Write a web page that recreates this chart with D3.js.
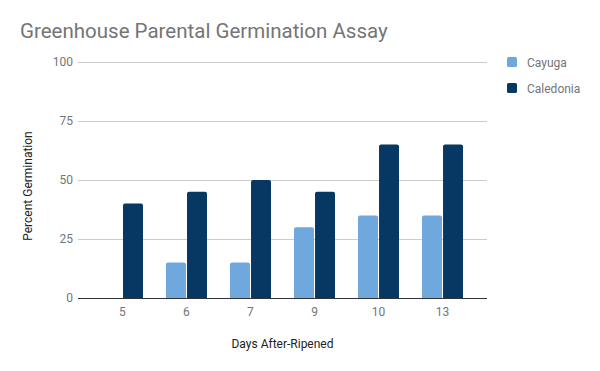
<html>
<head>
<script src="https://cdn.jsdelivr.net/npm/d3@7"></script>
<style>
  body { margin: 0; background: #fff; }
  text { font-family: Roboto, "Noto Sans", sans-serif; }
</style>
</head>
<body>
<svg id="chart"></svg>
<script>
const WIDTH = 600
const HEIGHT = 371

const days = ["5", "6", "7", "9", "10", "13"]
const seriesNames = ["Cayuga", "Caledonia"]
const cayuga = [0, 15, 15, 30, 35, 35]
const caledonia = [40, 45, 50, 45, 65, 65]
const yTicks = [0, 25, 50, 75, 100]
const colors = ["#6fa8dc", "#073763"]

const plotLeft = 78, plotRight = 487, plotTop = 62, plotBottom = 298

let svg = d3.select("#chart").attr("width", WIDTH).attr("height", HEIGHT)

let x0 = d3.scaleBand().domain(days).range([plotLeft, plotRight]).paddingOuter(0.195).paddingInner(0)
let x1 = d3.scaleBand().domain(seriesNames)
  .range([x0.bandwidth() / 2 - 20.5, x0.bandwidth() / 2 + 20.5]).paddingInner(0.05)
let y = d3.scaleLinear().domain([0, 100]).range([plotBottom, plotTop])

// title
svg.append("text")
  .attr("x", 20).attr("y", 38)
  .attr("font-size", 20.5).attr("fill", "#757575")
  .text("Greenhouse Parental Germination Assay")

// gridlines
svg.append("g").selectAll("line")
  .data(yTicks.filter(d => d > 0))
  .enter().append("line")
  .attr("x1", plotLeft).attr("x2", plotRight)
  .attr("y1", d => y(d) + 0.5).attr("y2", d => y(d) + 0.5)
  .attr("stroke", "#cccccc")

// y labels
svg.append("g").selectAll("text")
  .data(yTicks)
  .enter().append("text")
  .attr("x", 73).attr("y", d => y(d) + 4)
  .attr("text-anchor", "end")
  .attr("font-size", 12).attr("fill", "#757575")
  .text(d => d)

// bars
function topRounded(x, yTop, w, h, r) {
  r = Math.min(r, h)
  return `M${x},${yTop + h}V${yTop + r}Q${x},${yTop} ${x + r},${yTop}H${x + w - r}Q${x + w},${yTop} ${x + w},${yTop + r}V${yTop + h}Z`
}

let rows = days.map((d, i) => ({ day: d, values: [cayuga[i], caledonia[i]] }))

let groups = svg.append("g").selectAll("g")
  .data(rows).enter().append("g")
  .attr("transform", d => `translate(${x0(d.day)},0)`)

groups.selectAll("path")
  .data(d => d.values.map((v, j) => ({ name: seriesNames[j], v: v, j: j })))
  .enter().append("path")
  .filter(d => d.v > 0)
  .attr("fill", d => colors[d.j])
  .attr("d", d => topRounded(x1(d.name), y(d.v), x1.bandwidth(), y(0) - y(d.v), 2))

// baseline
svg.append("line")
  .attr("x1", plotLeft).attr("x2", plotRight)
  .attr("y1", plotBottom + 0.5).attr("y2", plotBottom + 0.5)
  .attr("stroke", "#333333")

// x labels
svg.append("g").selectAll("text")
  .data(days).enter().append("text")
  .attr("x", d => x0(d) + x0.bandwidth() / 2)
  .attr("y", 316)
  .attr("text-anchor", "middle")
  .attr("font-size", 12).attr("fill", "#757575")
  .text(d => d)

// axis titles
svg.append("text")
  .attr("x", (plotLeft + plotRight) / 2).attr("y", 348)
  .attr("text-anchor", "middle")
  .attr("font-size", 12).attr("fill", "#222")
  .text("Days After-Ripened")

svg.append("text")
  .attr("transform", `translate(32,186) rotate(-90)`)
  .attr("text-anchor", "middle")
  .attr("font-size", 12).attr("fill", "#222")
  .text("Percent Germination")

// legend
let legend = svg.append("g").selectAll("g")
  .data(seriesNames).enter().append("g")
  .attr("transform", (d, i) => `translate(507,${57 + i * 26})`)

legend.append("rect")
  .attr("width", 10).attr("height", 10).attr("rx", 1.5)
  .attr("fill", (d, i) => colors[i])

legend.append("text")
  .attr("x", 20).attr("y", 9.5)
  .attr("font-size", 12).attr("fill", "#757575")
  .text(d => d)
</script>
</body>
</html>
